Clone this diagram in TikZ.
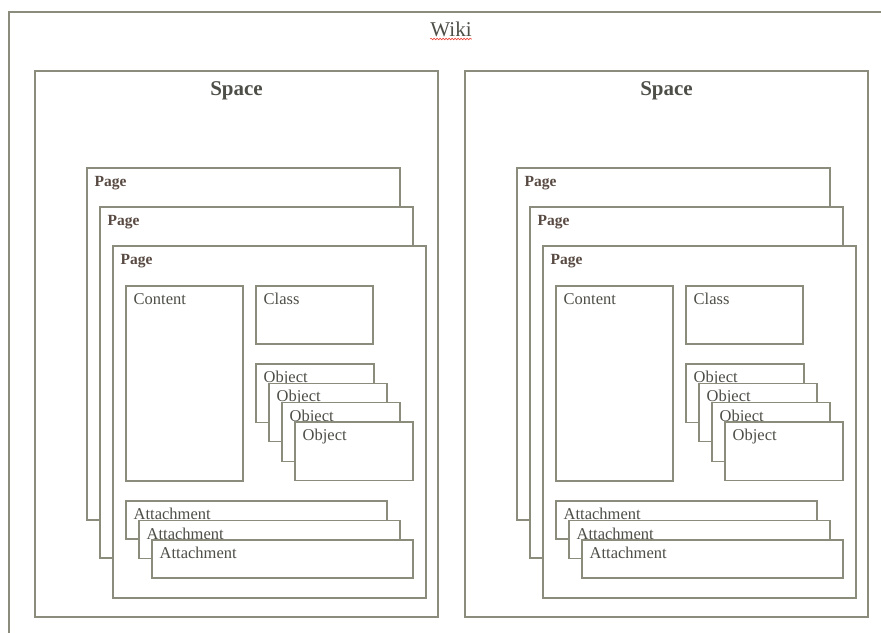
\documentclass[tikz,border=0pt]{standalone}
\usepackage{fontspec}
\setmainfont{Liberation Serif}
\usetikzlibrary{decorations.pathmorphing}

\definecolor{edge}{RGB}{140,140,124}
\definecolor{ink}{RGB}{78,78,72}
\definecolor{pageink}{RGB}{88,74,66}
\definecolor{spell}{RGB}{235,70,60}

\tikzset{
  frame/.style={draw=edge, line width=1.2pt, fill=white, inner sep=0pt,
    outer sep=0pt, anchor=north west},
  lbl/.style={anchor=base west, inner sep=0pt, text=ink,
    font=\fontsize{16.5}{18}\selectfont},
  pagelbl/.style={anchor=base west, inner sep=0pt, text=pageink,
    font=\bfseries\fontsize{15.5}{17}\selectfont},
  titlelbl/.style={anchor=base, inner sep=0pt, text=ink,
    font=\bfseries\fontsize{21}{23}\selectfont},
}

% box with its caption in the top left corner
% #1 name, #2 x, #3 y (top left), #4 width, #5 height, #6 caption, #7 caption style
\newcommand\panel[7]{%
  \node[frame, minimum width=#4pt, minimum height=#5pt] (#1) at (#2,#3) {};
  \node[#7] (#1-t) at ([shift={(7.5,18.5)}]#1.north west) {#6};
}

% one space with its three pages; #1 horizontal offset, #2 name suffix
\newcommand\spacelayout[2]{%
  \begin{scope}[xshift=#1pt]
    \node[frame, minimum width=403pt, minimum height=546pt] (space#2) at (35,71) {};
    \node[titlelbl] (space#2-t) at ([shift={(0,24)}]space#2.north) {Space};
    \panel{pa#2}{87}{168}{313}{352}{Page}{pagelbl}
    \panel{pb#2}{100}{207}{313}{351}{Page}{pagelbl}
    \panel{pc#2}{113}{246}{313}{352}{Page}{pagelbl}
    \panel{content#2}{126}{286}{117}{195}{Content}{lbl}
    \panel{class#2}{256}{286}{117}{58}{Class}{lbl}
    \panel{oa#2}{256}{364}{118}{58.5}{Object}{lbl}
    \panel{ob#2}{269}{383.3}{118}{58.5}{Object}{lbl}
    \panel{oc#2}{282}{402.7}{118}{58.5}{Object}{lbl}
    \panel{od#2}{295}{422}{118}{58.5}{Object}{lbl}
    \panel{aa#2}{126}{501}{261}{38}{Attachment}{lbl}
    \panel{ab#2}{139}{520.5}{261}{38}{Attachment}{lbl}
    \panel{ac#2}{152}{540}{261}{38}{Attachment}{lbl}
  \end{scope}
}

\begin{document}
\begin{tikzpicture}[x=1pt, y=-1pt]
  \useasboundingbox (0,0) rectangle (881,632);
  \clip (0,0) rectangle (881,632);
  \fill[white] (0,0) rectangle (881,632);

  % outer wiki frame, running past the right and lower edges
  \node[frame, minimum width=920pt, minimum height=680pt] (wiki) at (9,12) {};
  \node[anchor=base, inner sep=0pt, text=ink,
        font=\fontsize{21}{23}\selectfont] (wiki-t) at (451,36) {Wiki};
  \draw[spell, line width=0.6pt, decorate,
        decoration={snake, segment length=3pt, amplitude=0.8pt}]
    ([shift={(0,3)}]wiki-t.base west) -- ([shift={(0,3)}]wiki-t.base east);

  \spacelayout{0}{L}
  \spacelayout{430}{R}
\end{tikzpicture}
\end{document}
